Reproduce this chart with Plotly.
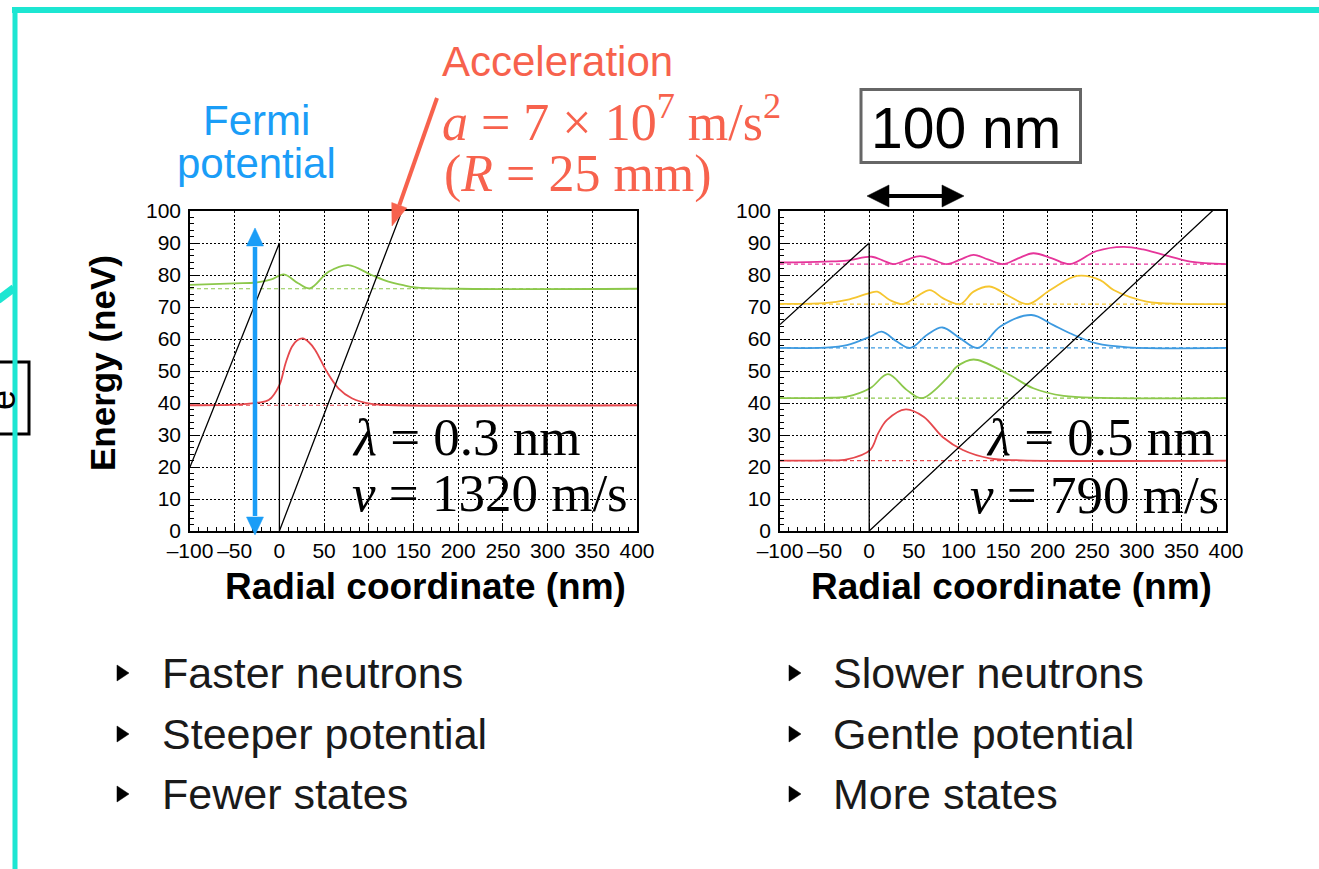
import plotly.graph_objects as go

W, H = 1319, 869

# ---- axes ----
x_tickvals = [-100, -50, 0, 50, 100, 150, 200, 250, 300, 350, 400]
x_ticktext = ["–100", "–50", "0", "50", "100", "150", "200", "250", "300", "350", "400"]
y_tickvals = [0, 10, 20, 30, 40, 50, 60, 70, 80, 90, 100]

# ---- left panel: lambda = 0.3 nm, v = 1320 m/s ----
pot_left_x = [-100, 0, 0, 137]
pot_left_E = [20, 90, 0, 100]

levels_left = [39.3, 75.7]

red_left_x = [-100, -50, -25, -12, 0, 7, 14, 20, 26, 33, 40, 53, 66, 81, 103, 130, 400]
red_left_E = [39.3, 39.5, 40.1, 40.9, 45.6, 52.5, 57.6, 59.6, 60.2, 59.0, 56.6, 49.8, 44.6, 41.5, 39.7, 39.3, 39.3]

green_left_x = [-100, -50, -25, -9, 5, 21, 34, 55, 77, 103, 122, 137, 152, 200, 400]
green_left_E = [76.9, 77.4, 77.7, 78.6, 80.2, 77.4, 75.8, 81.0, 83.1, 80.0, 77.9, 76.9, 76.1, 75.7, 75.7]

# ---- right panel: lambda = 0.5 nm, v = 790 m/s ----
pot_right_x = [-100, 0, 0, 400]
pot_right_E = [64.5, 90, 0, 104]

levels_right = [22.0, 41.5, 57.2, 70.9, 83.4]

red_right_x = [-100, -50, -25, 1, 10, 20, 41, 61, 83, 105, 135, 170, 400]
red_right_E = [22.0, 22.1, 22.4, 25.3, 30.5, 34.7, 38.0, 35.7, 29.2, 25.3, 22.7, 22.1, 22.0]

green_right_x = [-100, -50, -25, 1, 21, 42, 59, 87, 98, 117, 154, 184, 218, 260, 400]
green_right_E = [41.5, 41.6, 42.0, 44.6, 49.0, 44.1, 41.5, 47.7, 51.3, 53.6, 49.3, 44.6, 42.2, 41.6, 41.5]

blue_right_x = [-100, -50, -25, 1, 14, 31, 46, 65, 82, 102, 122, 147, 182, 206, 225, 255, 290, 400]
blue_right_E = [57.2, 57.3, 58.1, 60.7, 62.3, 59.2, 57.2, 61.3, 63.6, 60.2, 57.2, 63.9, 67.5, 64.4, 61.8, 58.6, 57.4, 57.2]

yellow_right_x = [-100, -50, -25, 0, 9, 23, 38, 53, 68, 83, 102, 117, 135, 158, 178, 203, 233, 259, 274, 311, 350, 400]
yellow_right_E = [71.0, 71.2, 72.2, 74.3, 74.8, 72.2, 70.9, 73.2, 75.3, 72.7, 70.9, 74.8, 76.4, 73.2, 70.9, 75.3, 79.7, 78.4, 75.3, 71.7, 71.0, 70.9]

magenta_right_x = [-100, -50, -25, 3, 15, 27, 42, 57, 72, 87, 102, 117, 133, 150, 167, 184, 205, 225, 255, 285, 307, 330, 360, 400]
magenta_right_E = [83.9, 84.2, 84.5, 85.7, 84.6, 83.4, 84.7, 85.9, 84.7, 83.4, 84.8, 86.3, 84.9, 83.4, 85.2, 86.8, 85.2, 83.4, 87.5, 88.8, 88.0, 86.3, 84.2, 83.4]

RED, GREEN, BLUE, YELLOW, MAGENTA = "#E5484D", "#8CC84B", "#3D9AE0", "#F6C630", "#E6359A"
TEAL = "#1DE6D2"
FERMI_BLUE = "#1A9DF7"
SALMON = "#F7624D"
SANS = "Liberation Sans, Arial, Helvetica, sans-serif"
SERIF = "Liberation Serif, Times New Roman, serif"


def px(x):
    return x / W


def py(y):
    return 1 - y / H


fig = go.Figure()


def add_panel(xa, ya, pot_x, pot_E, levels, curves):
    for E, (cx, cy, col) in zip(levels, curves):
        fig.add_trace(go.Scatter(x=[-100, 400], y=[E, E], mode="lines", xaxis=xa, yaxis=ya,
                                 line=dict(color=col, width=1.2, dash="4px,3px"),
                                 showlegend=False, hoverinfo="skip"))
    for cx, cy, col in curves:
        fig.add_trace(go.Scatter(x=cx, y=cy, mode="lines", xaxis=xa, yaxis=ya,
                                 line=dict(color=col, width=1.8, shape="spline", smoothing=1.0),
                                 showlegend=False))
    fig.add_trace(go.Scatter(x=pot_x, y=pot_E, mode="lines", xaxis=xa, yaxis=ya,
                             line=dict(color="black", width=1.3), showlegend=False))


add_panel("x", "y", pot_left_x, pot_left_E, levels_left,
          [(red_left_x, red_left_E, RED), (green_left_x, green_left_E, GREEN)])
add_panel("x2", "y2", pot_right_x, pot_right_E, levels_right,
          [(red_right_x, red_right_E, RED), (green_right_x, green_right_E, GREEN),
           (blue_right_x, blue_right_E, BLUE), (yellow_right_x, yellow_right_E, YELLOW),
           (magenta_right_x, magenta_right_E, MAGENTA)])


def xaxis_style(domain, anchor):
    return dict(domain=domain, anchor=anchor, range=[-100, 400], tickvals=x_tickvals, ticktext=x_ticktext,
                tickangle=0, ticks="inside", ticklen=8, tickwidth=1, tickcolor="black",
                tickfont=dict(family=SANS, size=21, color="black"),
                showline=True, linecolor="black", linewidth=1.5, mirror=True,
                showgrid=True, gridcolor="black", gridwidth=1, griddash="2px,2px",
                zeroline=False, automargin=False,
                minor=dict(dtick=10, tick0=0, ticks="inside", ticklen=4, tickcolor="black", showgrid=False))


def yaxis_style(domain, anchor):
    return dict(domain=domain, anchor=anchor, range=[0, 100], tickvals=y_tickvals,
                ticks="inside", ticklen=8, tickwidth=1, tickcolor="black",
                tickfont=dict(family=SANS, size=21, color="black"),
                showline=True, linecolor="black", linewidth=1.5, mirror=True,
                showgrid=True, gridcolor="black", gridwidth=1, griddash="2px,2px",
                zeroline=False, ticklabelstandoff=3, automargin=False,
                minor=dict(dtick=2, tick0=0, ticks="inside", ticklen=4, tickcolor="black", showgrid=False))


ydom = [py(531), py(211)]
fig.update_layout(
    width=W, height=H, margin=dict(l=0, r=0, t=0, b=0, pad=0, autoexpand=False),
    paper_bgcolor="white", plot_bgcolor="white",
    xaxis=xaxis_style([px(190), px(637)], "y"),
    yaxis=yaxis_style(ydom, "x"),
    xaxis2=xaxis_style([px(780), px(1226)], "y2"),
    yaxis2=yaxis_style(ydom, "x2"),
)

shapes = []


def seg(x0, y0, x1, y1, color, width):
    shapes.append(dict(type="line", xref="paper", yref="paper", x0=px(x0), y0=py(y0), x1=px(x1), y1=py(y1),
                       line=dict(color=color, width=width), layer="above"))


def poly(points, color):
    d = "M " + " L ".join(f"{px(a):.5f} {py(b):.5f}" for a, b in points) + " Z"
    shapes.append(dict(type="path", xref="paper", yref="paper", path=d, fillcolor=color,
                       line=dict(color=color, width=0.5), layer="above"))


def arrow_head(tip, frm, length, half, color):
    dx, dy = tip[0] - frm[0], tip[1] - frm[1]
    n = (dx * dx + dy * dy) ** 0.5
    ux, uy = dx / n, dy / n
    bx, by = tip[0] - ux * length, tip[1] - uy * length
    poly([tip, (bx - uy * half, by + ux * half), (bx + uy * half, by - ux * half)], color)
    return bx, by


# slide frame
seg(12, 10, W + 5, 10, TEAL, 6)
seg(15, 7, 15, H + 5, TEAL, 5)
seg(-2, 300, 14, 288, TEAL, 8)
shapes.append(dict(type="rect", xref="paper", yref="paper", x0=px(-10), x1=px(29), y0=py(434), y1=py(362),
                   line=dict(color="black", width=3), layer="below"))

# Fermi potential double arrow
b1 = arrow_head((255, 228), (255, 535), 18, 8.5, FERMI_BLUE)
b2 = arrow_head((255, 535), (255, 228), 18, 8.5, FERMI_BLUE)
seg(255, b1[1] + 1, 255, b2[1] - 1, FERMI_BLUE, 4.5)

# acceleration arrow
r1 = arrow_head((392, 226), (437, 98), 22, 8, SALMON)
seg(437, 98, r1[0], r1[1], SALMON, 4)

# 100 nm scale bar
k1 = arrow_head((867, 196), (964, 196), 22, 11, "black")
k2 = arrow_head((964, 196), (867, 196), 22, 11, "black")
seg(k1[0] - 1, 196, k2[0] + 1, 196, "black", 4)
shapes.append(dict(type="rect", xref="paper", yref="paper", x0=px(861), x1=px(1080.5), y0=py(162.5), y1=py(89.5),
                   line=dict(color="#666666", width=3)))

# bullet markers
for bx in (117, 789):
    for by in (673, 734, 794):
        poly([(bx, by - 8), (bx + 12, by), (bx, by + 8)], "black")

fig.update_layout(shapes=shapes)

ann = []


def text(x, y, s, size, color="black", family=SANS, xanchor="center", angle=0):
    ann.append(dict(x=px(x), y=py(y), xref="paper", yref="paper", text=s, showarrow=False,
                    xanchor=xanchor, yanchor="middle", textangle=angle,
                    font=dict(family=family, size=size, color=color)))


text(256, 120, "Fermi", 42, FERMI_BLUE)
text(256, 164, "potential", 42, FERMI_BLUE)
text(557, 62, "Acceleration", 42, SALMON)
text(440, 118, "<i>a</i> = 7 × 10<sup>7</sup> m/s<sup>2</sup>", 52, SALMON, SERIF, "left")
text(442, 174, "(<i>R</i> = 25 mm)", 52, SALMON, SERIF, "left")
text(966, 128, "100 nm", 57, "black")

text(466, 437, "<i>λ</i> = 0.3 nm", 53, "black", SERIF)
text(490, 493, "<i>v</i> = 1320 m/s", 53, "black", SERIF)
text(1100, 437, "<i>λ</i> = 0.5 nm", 53, "black", SERIF)
text(1094, 495, "<i>v</i> = 790 m/s", 53, "black", SERIF)

text(102, 363, "<b>Energy (neV)</b>", 35, "black", SANS, "center", -90)
text(426, 586, "<b>Radial coordinate (nm)</b>", 37)
text(1011, 586, "<b>Radial coordinate (nm)</b>", 37)
text(2, 400, "e", 36, "black", SANS, "center", -90)

for lx, lines in ((160, ["Faster neutrons", "Steeper potential", "Fewer states"]),
                  (831, ["Slower neutrons", "Gentle potential", "More states"])):
    for ly, s in zip((673, 734, 794), lines):
        text(lx, ly, s, 43, "#1a1a1a", SANS, "left")

fig.update_layout(annotations=ann)

fig.write_html("out.html")
